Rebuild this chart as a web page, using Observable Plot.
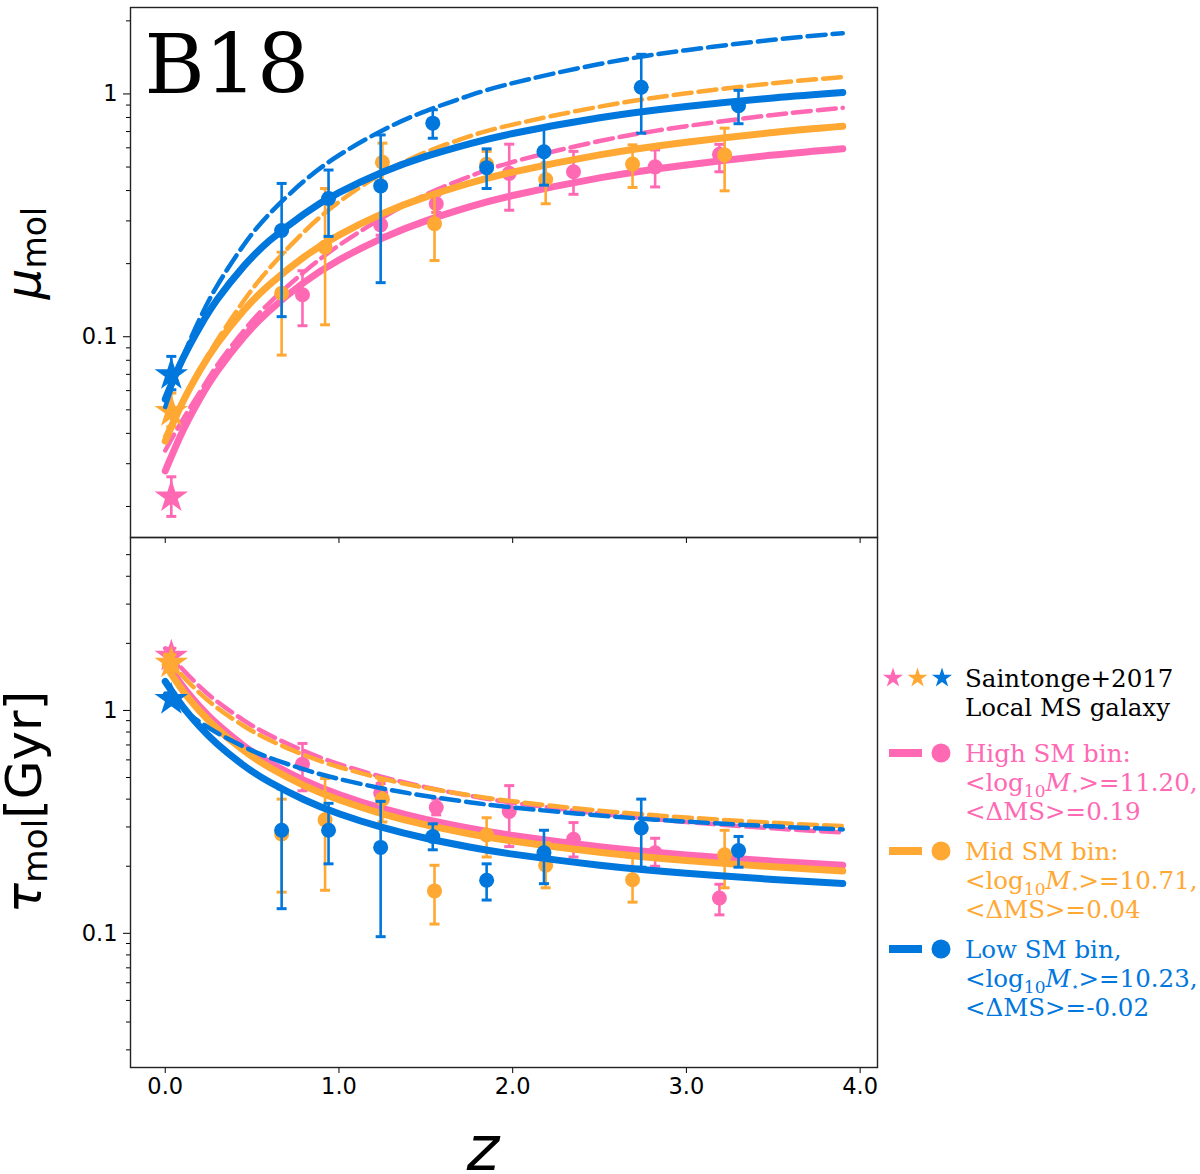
<!DOCTYPE html>
<html>
<head>
<meta charset="utf-8">
<script src="https://cdn.jsdelivr.net/npm/d3@7"></script>
<script src="https://cdn.jsdelivr.net/npm/@observablehq/plot@0.6"></script>
<style>
  body { margin: 0; background: white; }
  #wrap { position: relative; width: 1200px; height: 1174px; overflow: hidden; }
  #top, #bottom, #legend { position: absolute; left: 0; }
  #top { top: 0; }
  #bottom { top: 529px; }
  #legend { top: 0; }
</style>
</head>
<body>
<div id="wrap"><div id="top"></div><div id="bottom"></div><div id="legend"></div></div>
<script>
// fitted relations
const zFit = [0, 0.1, 0.2, 0.3, 0.45, 0.6, 0.8, 1.0, 1.25, 1.5, 1.75, 2.0, 2.5, 3.0, 3.5, 3.9];

const muHighSolid = [0.028, 0.0408, 0.0557, 0.0723, 0.0993, 0.1281, 0.1676, 0.2071, 0.2549, 0.3002, 0.3425, 0.3817, 0.4512, 0.5101, 0.5604, 0.5952];
const muHighDash  = [0.034, 0.0455, 0.0592, 0.0765, 0.1055, 0.138, 0.185, 0.238, 0.309, 0.385, 0.457, 0.5245, 0.6397, 0.7368, 0.8196, 0.8762];
const muMidSolid  = [0.0372, 0.0537, 0.0728, 0.0938, 0.128, 0.1641, 0.2134, 0.2623, 0.3214, 0.377, 0.4288, 0.4768, 0.5612, 0.6326, 0.6937, 0.7357];
const muMidDash   = [0.0389, 0.0542, 0.0735, 0.0969, 0.140, 0.1915, 0.271, 0.359, 0.471, 0.5754, 0.6685, 0.7477, 0.8866, 1.006, 1.107, 1.174];
const muLowSolid  = [0.0553, 0.0809, 0.110, 0.1426, 0.1945, 0.2486, 0.321, 0.392, 0.4756, 0.553, 0.623, 0.687, 0.798, 0.888, 0.963, 1.014];
const muLowDash   = [0.0514, 0.0817, 0.1191, 0.1628, 0.2377, 0.3207, 0.4384, 0.5592, 0.7077, 0.8502, 0.9842, 1.1083, 1.3286, 1.5145, 1.6714, 1.7794];

const tauHighSolid = [1.670, 1.286, 1.0375, 0.8673, 0.6963, 0.584, 0.4853, 0.4194, 0.3632, 0.3245, 0.2961, 0.2748, 0.2447, 0.2249, 0.2108, 0.2022];
const tauHighDash  = [1.901, 1.530, 1.276, 1.094, 0.9049, 0.7751, 0.6565, 0.5746, 0.503, 0.4524, 0.4148, 0.3857, 0.3442, 0.316, 0.2957, 0.2832];
const tauMidSolid  = [1.600, 1.229, 0.990, 0.8266, 0.6624, 0.5548, 0.4603, 0.3973, 0.3438, 0.3068, 0.2799, 0.2596, 0.2311, 0.2121, 0.1987, 0.1905];
const tauMidDash   = [1.778, 1.429, 1.193, 1.026, 0.8538, 0.7366, 0.6305, 0.5575, 0.4943, 0.4498, 0.4166, 0.3914, 0.3552, 0.3308, 0.3132, 0.3026];
const tauLowSolid  = [1.349, 1.042, 0.843, 0.706, 0.568, 0.4775, 0.3976, 0.344, 0.2985, 0.267, 0.244, 0.2266, 0.2021, 0.186, 0.1744, 0.1674];
const tauLowDash   = [1.189, 1.013, 0.8864, 0.7918, 0.6882, 0.6141, 0.5436, 0.4928, 0.4467, 0.4131, 0.3875, 0.3673, 0.3378, 0.3171, 0.302, 0.2924];

// binned measurements
const zHigh     = [0.79, 1.24, 1.56, 1.98, 2.35, 2.82, 3.19];
const muHigh    = [0.149, 0.289, 0.353, 0.471, 0.478, 0.501, 0.564];
const muHighLo  = [0.111, 0.262, 0.325, 0.332, 0.386, 0.414, 0.478];
const muHighHi  = [0.187, 0.318, 0.383, 0.621, 0.58, 0.588, 0.62];
const tauHigh   = [0.574, 0.426, 0.367, 0.352, 0.264, 0.23, 0.144];
const tauHighLo = [0.436, 0.39, 0.34, 0.245, 0.22, 0.2, 0.121];
const tauHighHi = [0.711, 0.47, 0.40, 0.46, 0.314, 0.267, 0.166];

const zMid     = [0.67, 0.92, 1.25, 1.55, 1.85, 2.19, 2.69, 3.22];
const muMid    = [0.151, 0.234, 0.523, 0.292, 0.513, 0.444, 0.514, 0.561];
const muMidLo  = [0.084, 0.112, 0.42, 0.206, 0.45, 0.353, 0.412, 0.399];
const muMidHi  = [0.223, 0.408, 0.627, 0.383, 0.58, 0.52, 0.617, 0.723];
const tauMid   = [0.279, 0.323, 0.40, 0.155, 0.276, 0.202, 0.174, 0.225];
const tauMidLo = [0.153, 0.156, 0.316, 0.11, 0.22, 0.16, 0.138, 0.16];
const tauMidHi = [0.40, 0.495, 0.485, 0.202, 0.33, 0.255, 0.22, 0.29];

const zLow     = [0.67, 0.94, 1.24, 1.54, 1.85, 2.18, 2.74, 3.30];
const muLow    = [0.274, 0.371, 0.418, 0.758, 0.497, 0.578, 1.066, 0.895];
const muLowLo  = [0.121, 0.259, 0.167, 0.657, 0.408, 0.421, 0.689, 0.754];
const muLowHi  = [0.428, 0.486, 0.678, 0.861, 0.594, 0.723, 1.456, 1.035];
const tauLow   = [0.29, 0.29, 0.243, 0.272, 0.173, 0.23, 0.297, 0.235];
const tauLowLo = [0.129, 0.205, 0.0966, 0.237, 0.141, 0.167, 0.198, 0.198];
const tauLowHi = [0.445, 0.383, 0.391, 0.31, 0.205, 0.29, 0.40, 0.272];

// Saintonge+2017 local values (high, mid, low)
const zLocal     = [0.035, 0.035, 0.035];
const muLocal    = [0.0219, 0.0492, 0.0698];
const muLocalLo  = [0.0182, 0.0426, 0.0605];
const muLocalHi  = [0.0265, 0.0586, 0.083];
const tauLocal   = [1.75, 1.63, 1.12];
const tauLocalLo = [1.62, 1.50, 1.06];
const tauLocalHi = [1.90, 1.78, 1.20];

const xTicks = [0, 1, 2, 3, 4];
const muMinor = [0.02, 0.03, 0.04, 0.05, 0.06, 0.07, 0.08, 0.09, 0.2, 0.3, 0.4, 0.5, 0.6, 0.7, 0.8, 0.9, 2];
const tauMinor = [0.03, 0.04, 0.05, 0.06, 0.07, 0.08, 0.09, 0.2, 0.3, 0.4, 0.5, 0.6, 0.7, 0.8, 0.9, 2, 3, 4, 5];

const pink = "#ff69b4", orange = "#ffa833", blue = "#0077dd";
const sans = "DejaVu Sans", serif = "DejaVu Serif";

const rows = (zs, vs, lo, hi) => zs.map((z, i) => ({z, v: vs[i], lo: lo ? lo[i] : null, hi: hi ? hi[i] : null}));

const capSymbol = {
  draw(ctx, size) {
    const w = Math.sqrt(size / Math.PI);
    ctx.moveTo(-w, 0);
    ctx.lineTo(w, 0);
  }
};

function errMarks(data, color) {
  return [
    Plot.ruleX(data, {x: 'z', y1: 'lo', y2: 'hi', stroke: color, strokeWidth: 2.6}),
    Plot.dot(data, {x: 'z', y: 'lo', symbol: capSymbol, r: 5, stroke: color, strokeWidth: 3}),
    Plot.dot(data, {x: 'z', y: 'hi', symbol: capSymbol, r: 5, stroke: color, strokeWidth: 3}),
  ];
}

function binMarks(color, solid, dash, pts, star) {
  return [
    Plot.line(rows(zFit, dash), {x: 'z', y: 'v', stroke: color, strokeWidth: 4.5, strokeDasharray: '18,7', curve: 'natural'}),
    Plot.line(rows(zFit, solid), {x: 'z', y: 'v', stroke: color, strokeWidth: 7, curve: 'natural'}),
    ...errMarks(pts, color),
    Plot.dot(pts, {x: 'z', y: 'v', r: 7.5, fill: color}),
    ...errMarks(star, color),
    Plot.dot(star, {x: 'z', y: 'v', symbol: 'star', r: 10.5, fill: color}),
  ];
}

const starRow = (v, lo, hi, i) => rows([zLocal[i]], [v[i]], [lo[i]], [hi[i]]);

const axisCommon = {fontSize: 22.5, fontFamily: sans, label: null};

// top panel: molecular gas fraction
const topChart = Plot.plot({
  width: 1200, height: 545,
  marginLeft: 130, marginRight: 323, marginTop: 7, marginBottom: 8,
  style: {background: 'transparent', fontFamily: sans, color: 'black'},
  x: {domain: [-0.2, 4.1]},
  y: {type: 'log', domain: [0.0149, 2.27]},
  marks: [
    Plot.axisY([0.1, 1], {...axisCommon, tickSize: 7, tickPadding: 6, tickFormat: d => d === 1 ? '1' : '0.1'}),
    Plot.axisY(muMinor, {...axisCommon, tickSize: 4, tickFormat: () => ''}),
    Plot.axisX(xTicks, {...axisCommon, anchor: 'bottom', tickSize: 6, tickFormat: () => ''}),
    ...binMarks(pink, muHighSolid, muHighDash, rows(zHigh, muHigh, muHighLo, muHighHi), starRow(muLocal, muLocalLo, muLocalHi, 0)),
    ...binMarks(orange, muMidSolid, muMidDash, rows(zMid, muMid, muMidLo, muMidHi), starRow(muLocal, muLocalLo, muLocalHi, 1)),
    ...binMarks(blue, muLowSolid, muLowDash, rows(zLow, muLow, muLowLo, muLowHi), starRow(muLocal, muLocalLo, muLocalHi, 2)),
    Plot.text(['B18'], {text: d => d, frameAnchor: 'top-left', textAnchor: 'start', lineAnchor: 'bottom',
      dx: 14, dy: 85, fontSize: 82, fontFamily: serif, fill: 'black'}),
    Plot.frame({stroke: '#222', strokeWidth: 1.4}),
  ]
});

// bottom panel: depletion time
const bottomChart = Plot.plot({
  width: 1200, height: 645,
  marginLeft: 130, marginRight: 323, marginTop: 8, marginBottom: 107,
  style: {background: 'transparent', fontFamily: sans, color: 'black'},
  x: {domain: [-0.2, 4.1]},
  y: {type: 'log', domain: [0.025, 5.97]},
  marks: [
    Plot.axisY([0.1, 1], {...axisCommon, tickSize: 7, tickPadding: 6, tickFormat: d => d === 1 ? '1' : '0.1'}),
    Plot.axisY(tauMinor, {...axisCommon, tickSize: 4, tickFormat: () => ''}),
    Plot.axisX(xTicks, {...axisCommon, anchor: 'bottom', tickSize: 6, tickPadding: 5, tickFormat: d3.format('.1f')}),
    ...binMarks(pink, tauHighSolid, tauHighDash, rows(zHigh, tauHigh, tauHighLo, tauHighHi), starRow(tauLocal, tauLocalLo, tauLocalHi, 0)),
    ...binMarks(orange, tauMidSolid, tauMidDash, rows(zMid, tauMid, tauMidLo, tauMidHi), starRow(tauLocal, tauLocalLo, tauLocalHi, 1)),
    ...binMarks(blue, tauLowSolid, tauLowDash, rows(zLow, tauLow, tauLowLo, tauLowHi), starRow(tauLocal, tauLocalLo, tauLocalHi, 2)),
    Plot.text(['z'], {text: d => d, frameAnchor: 'bottom', lineAnchor: 'bottom', dx: -21, dy: 102,
      fontSize: 62, fontStyle: 'italic', fontFamily: sans, fill: 'black'}),
    Plot.frame({stroke: '#222', strokeWidth: 1.4}),
  ]
});

d3.select('#top').append(() => topChart);
d3.select('#bottom').append(() => bottomChart);

// y labels with subscripts
function yLabel(svg, x, y, sym, size, tail) {
  const t = d3.select(svg).append('text')
    .attr('transform', `translate(${x},${y}) rotate(-90)`)
    .attr('text-anchor', 'middle')
    .attr('font-family', sans)
    .attr('fill', 'black');
  t.append('tspan').attr('font-size', size).attr('font-style', 'italic').text(sym);
  t.append('tspan').attr('font-size', size * 0.69).attr('dy', 6).text('mol');
  if (tail) t.append('tspan').attr('font-size', size).attr('dy', -6).text(tail);
}
yLabel(topChart, 40, 253, 'μ', 48, null);
yLabel(bottomChart, 41, 802 - 529, 'τ', 50, '[Gyr]');

// legend (outside the lower panel)
const leg = d3.select('#legend').append('svg')
  .attr('width', 1200).attr('height', 1174)
  .style('display', 'block');

const starPath = d3.symbol(d3.symbolStar, Math.PI * 6.3 * 6.3)();
[pink, orange, blue].forEach((c, i) => {
  leg.append('path').attr('d', starPath).attr('fill', c)
    .attr('transform', `translate(${893 + 24.5 * i},678)`);
});

function legText(lines, color, x, y0) {
  lines.forEach((parts, j) => {
    const t = leg.append('text').attr('x', x).attr('y', y0 + 29 * j)
      .attr('font-family', serif).attr('font-size', 24.5).attr('fill', color);
    parts.forEach(p => {
      const s = t.append('tspan').text(p.t);
      if (p.size) s.attr('font-size', p.size);
      if (p.dy) s.attr('dy', p.dy);
      if (p.it) s.attr('font-style', 'italic');
    });
  });
}

const massLine = val => [
  {t: '<log'}, {t: '10', size: 17, dy: 6}, {t: 'M', it: true, dy: -6}, {t: '⋆', size: 13, dy: 4}, {t: '>=' + val + ',', dy: -4}
];

legText([[{t: 'Saintonge+2017'}], [{t: 'Local MS galaxy'}]], 'black', 965, 687);

const binLegend = [
  {color: pink, y: 762, head: 'High SM bin:', mass: '11.20', ms: '0.19'},
  {color: orange, y: 860, head: 'Mid SM bin:', mass: '10.71', ms: '0.04'},
  {color: blue, y: 958, head: 'Low SM bin,', mass: '10.23', ms: '-0.02'},
];
binLegend.forEach(b => {
  const cy = b.y - 9;
  leg.append('line').attr('x1', 889).attr('x2', 922).attr('y1', cy).attr('y2', cy)
    .attr('stroke', b.color).attr('stroke-width', 8);
  leg.append('circle').attr('cx', 941).attr('cy', cy).attr('r', 9.5).attr('fill', b.color);
  legText([[{t: b.head}], massLine(b.mass), [{t: '<ΔMS>=' + b.ms}]], b.color, 965, b.y);
});
</script>
</body>
</html>
